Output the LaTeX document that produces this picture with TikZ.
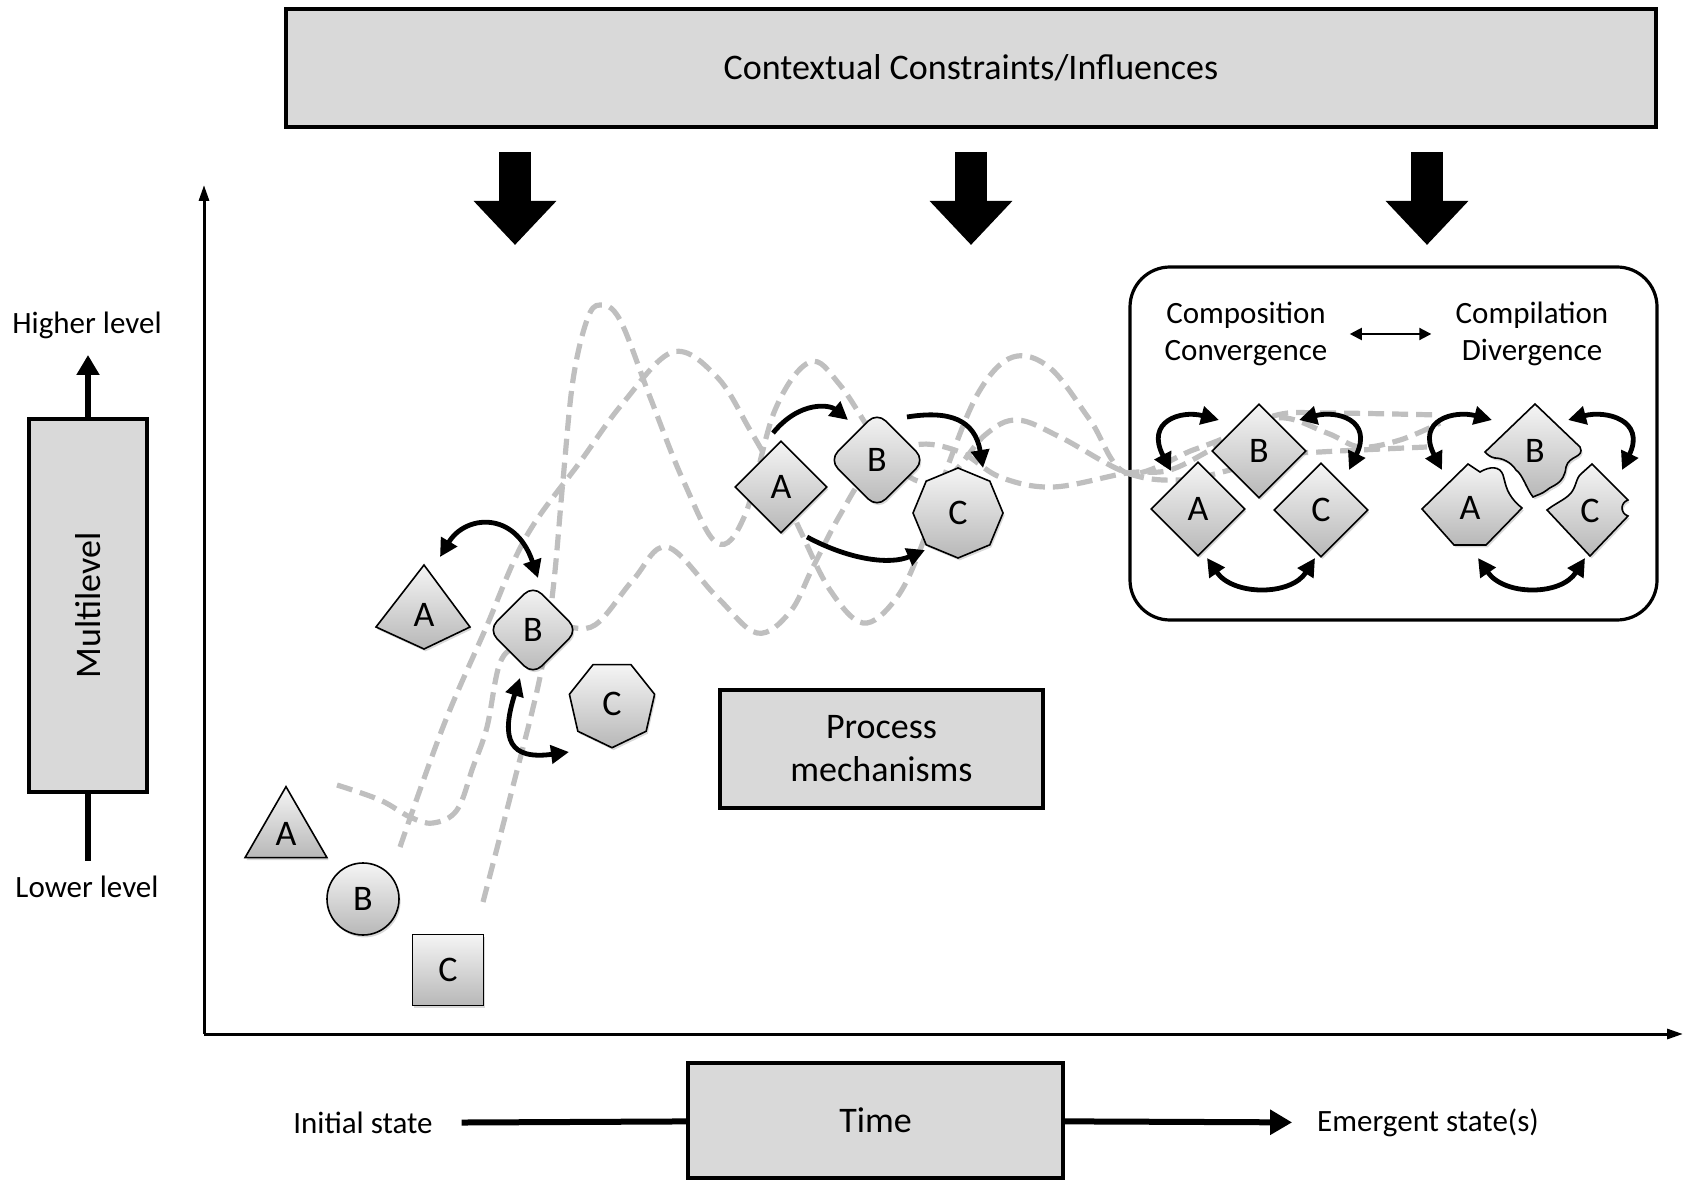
\documentclass[tikz,border=0pt]{standalone}
\usepackage{fontspec}
\setmainfont{Carlito}
\usetikzlibrary{shapes, arrows.meta, shadows}

\begin{document}
\begin{tikzpicture}[x=0.5pt, y=-0.5pt,
  every node/.style={font=\fontsize{15.5}{18.5}\selectfont},
  large/.style={font=\fontsize{18}{21.5}\selectfont},
  box/.style={draw, line width=2pt, fill=black!15, inner sep=0pt, align=center, drop shadow={shadow xshift=1pt, shadow yshift=-1pt, opacity=.25}},
  ele/.style={draw, line width=.8pt, top color=black!4, bottom color=black!28, inner sep=0pt, font=\fontsize{18}{21.5}\selectfont, drop shadow={shadow xshift=.8pt, shadow yshift=-1.2pt, opacity=.3}},
  tag/.style={font=\fontsize{18}{21.5}\selectfont},
  trail/.style={black!25, line width=2.6pt, dash pattern=on 8pt off 4pt},
  link/.style={line width=2.4pt, -{Triangle[length=9pt, width=9pt]}},
  twin/.style={line width=2.4pt, {Triangle[length=9pt, width=9pt]}-{Triangle[length=9pt, width=9pt]}},
  push/.style={line width=16pt, -{Triangle[length=22pt, width=40pt]}},
  axis/.style={line width=1.5pt, -{Triangle[length=8pt, width=5pt]}},
  bar/.style={line width=3pt}]
  \useasboundingbox (0,0) rectangle (1684,1181);

  % frame
  \node[box, large, minimum width=685pt, minimum height=59pt] (ctx) at (971,68) {Contextual Constraints/Influences};
  \foreach \x/\n in {515/1, 971/2, 1427/3} {
    \coordinate (p\n) at (\x,152);
    \draw[push] (p\n) -- ++(0,93);
  }
  \coordinate (o) at (204,1034);
  \coordinate (ytop) at (204,185);
  \coordinate (xend) at (1683,1034);
  \draw[axis] (o) -- (ytop);
  \draw[axis] (o) -- (xend);

  \node[box, large, minimum width=59pt, minimum height=186.5pt] (ml) at (88,605.5) {\rotatebox{90}{Multilevel}};
  \node (hi) at (87,325) {Higher level};
  \node (lo) at (87,887) {Lower level};
  \draw[line width=3.2pt, -{Triangle[length=10pt, width=11pt]}] (ml.north) -- ++(0,-62);
  \draw[line width=3.2pt] (ml.south) -- ++(0,67);

  \node[box, large, minimum width=187.5pt, minimum height=57.5pt] (time) at (875.5,1120.5) {Time};
  \node (init) at (363,1123) {Initial state};
  \node (emg) at (1428,1123) {Emergent state(s)};
  \draw[bar, shorten <=11pt] (init) -- (time);
  \draw[bar, -{Triangle[length=11pt, width=12pt]}, shorten >=9pt] (time) -- (emg);

  \node[box, large, minimum width=161.5pt, minimum height=59pt] (pm) at (881.5,749) {Process\\mechanisms};

  \node[draw, line width=1.6pt, rounded corners=20pt, minimum width=263.5pt, minimum height=176.5pt] (stage) at (1393.5,443.5) {};
  \node[align=center, inner sep=0pt] (conv) at (1246,334) {Composition\\Convergence};
  \node[align=center, inner sep=0pt] (div) at (1532,334) {Compilation\\Divergence};
  \draw[line width=1pt, {Triangle[length=6pt, width=6pt]}-{Triangle[length=6pt, width=6pt]}, shorten <=11pt, shorten >=12pt] (conv) -- (div);

  % trajectories
  \draw[trail] plot[smooth, tension=.6] coordinates {(400,847) (443,727) (485,630) (526,537) (580,462) (623,403) (673,352) (717,377) (750,430) (775,475) (800,530) (830,590) (863,623) (895,600) (920,550) (950,460) (980,390) (1013,357) (1050,368) (1090,420) (1127,473) (1193,450) (1227,437) (1277,415) (1327,413) (1440,415)};
  \draw[trail] plot[smooth, tension=.6] coordinates {(483,902) (512,790) (540,677) (553,590) (563,480) (573,380) (587,320) (600,305) (620,320) (650,397) (683,480) (717,543) (745,515) (775,410) (810,362) (840,385) (880,445) (915,480) (950,475) (985,435) (1017,420) (1060,437) (1127,473) (1180,480) (1230,470) (1280,455) (1320,452) (1360,450) (1427,447)};
  \draw[trail] plot[smooth, tension=.6] coordinates {(337,785) (380,800) (410,817) (433,823) (457,810) (473,767) (487,727) (500,663) (520,645) (560,628) (595,625) (633,580) (667,547) (717,597) (757,633) (790,612) (813,567) (840,515) (870,470) (915,445) (960,452) (1000,477) (1053,487) (1127,473) (1170,470) (1220,445) (1277,418) (1327,433) (1360,447) (1400,440) (1440,423)};

  % initial state
  \node[ele, regular polygon, regular polygon sides=3, minimum size=47.3pt] (iA) at (286,834) {A};
  \node[ele, circle, minimum size=36pt] (iB) at (363,899) {B};
  \node[ele, rectangle, minimum size=35.5pt] (iC) at (448,970) {C};

  % first interaction
  \path[ele] (424,565) -- (470,627) -- (424,649) -- (376,627) -- cycle;
  \node[tag] (lA) at (424,615) {A};
  \node[ele, diamond, rounded corners=6pt, minimum size=45pt] (lB) at (533,630) {B};
  \node[ele, regular polygon, regular polygon sides=7, shape border rotate=180, minimum size=43.7pt] (lC) at (612,704) {C};
  \draw[twin] ([shift={(16,-58)}]lA.center) .. controls +(25,-42) and +(-23,-68) .. ([shift={(5,-52)}]lB.center);
  \draw[twin] ([shift={(-13,48)}]lB.center) .. controls +(-20,62) and +(-59,8) .. ([shift={(-43,48)}]lC.center);

  % second interaction
  \node[ele, diamond, minimum size=46pt] (mA) at (781,487) {A};
  \node[ele, diamond, rounded corners=6pt, minimum size=48pt] (mB) at (877,460) {B};
  \node[ele, regular polygon, regular polygon sides=8, shape border rotate=22.5, minimum size=45pt] (mC) at (958,513) {C};
  \draw[link] ([shift={(-8,-54)}]mA.center) .. controls +(27,-33) and +(-18,-15) .. ([shift={(-29,-40)}]mB.center);
  \draw[link] ([shift={(30,-43)}]mB.center) .. controls +(43,-7) and +(-8,-48) .. ([shift={(25,-45)}]mC.center);
  \draw[link] ([shift={(26,50)}]mA.center) .. controls +(43,23) and +(-35,15) .. ([shift={(-33,37)}]mC.center);

  % convergence
  \node[ele, diamond, minimum size=47pt] (cA) at (1198,509) {A};
  \node[ele, diamond, minimum size=47pt] (cB) at (1259,451) {B};
  \node[ele, diamond, minimum size=47pt] (cC) at (1321,510) {C};
  \draw[twin] ([shift={(-27,-38)}]cA.center) .. controls +(-26,-50) and +(-38,-10) .. ([shift={(-40,-31)}]cB.center);
  \draw[twin] ([shift={(40,-31)}]cB.center) .. controls +(38,-10) and +(24,-50) .. ([shift={(28,-40)}]cC.center);
  \draw[twin] ([shift={(9,49)}]cA.center) .. controls +(26,38) and +(-24,38) .. ([shift={(-6,48)}]cC.center);

  % divergence
  \path[ele] (1422,509) -- (1468,464) -- (1480,472) .. controls (1490,466) and (1500,466) .. (1503,475) .. controls (1506,485) and (1506,495) .. (1522,508) -- (1486,545) -- (1454,545) -- cycle;
  \path[ele] (1535,404) -- (1580,447) .. controls (1585,458) and (1569,455) .. (1566,467) .. controls (1564,485) and (1552,485) .. (1547,490) .. controls (1542,494) and (1537,495) .. (1533,497) .. controls (1526,488) and (1523,475) .. (1516,470) .. controls (1511,462) and (1502,458) .. (1495,458) .. controls (1490,457) and (1488,455) .. (1485,452) -- cycle;
  \path[ele] (1547,510) .. controls (1556,503) and (1564,500) .. (1569,495) .. controls (1577,488) and (1575,478) .. (1582,473) -- (1592,464) -- (1628,500) .. controls (1620,503) and (1620,513) .. (1628,516) -- (1590,556) -- cycle;
  \node[tag] (dA) at (1470,508) {A};
  \node[tag] (dB) at (1535,451) {B};
  \node[tag] (dC) at (1590,511) {C};
  \draw[twin] ([shift={(-28,-38)}]dA.center) .. controls +(-26,-50) and +(-38,-10) .. ([shift={(-43,-31)}]dB.center);
  \draw[twin] ([shift={(33,-31)}]dB.center) .. controls +(38,-10) and +(24,-50) .. ([shift={(32,-41)}]dC.center);
  \draw[twin] ([shift={(8,50)}]dA.center) .. controls +(26,38) and +(-24,38) .. ([shift={(-5,47)}]dC.center);
\end{tikzpicture}
\end{document}
